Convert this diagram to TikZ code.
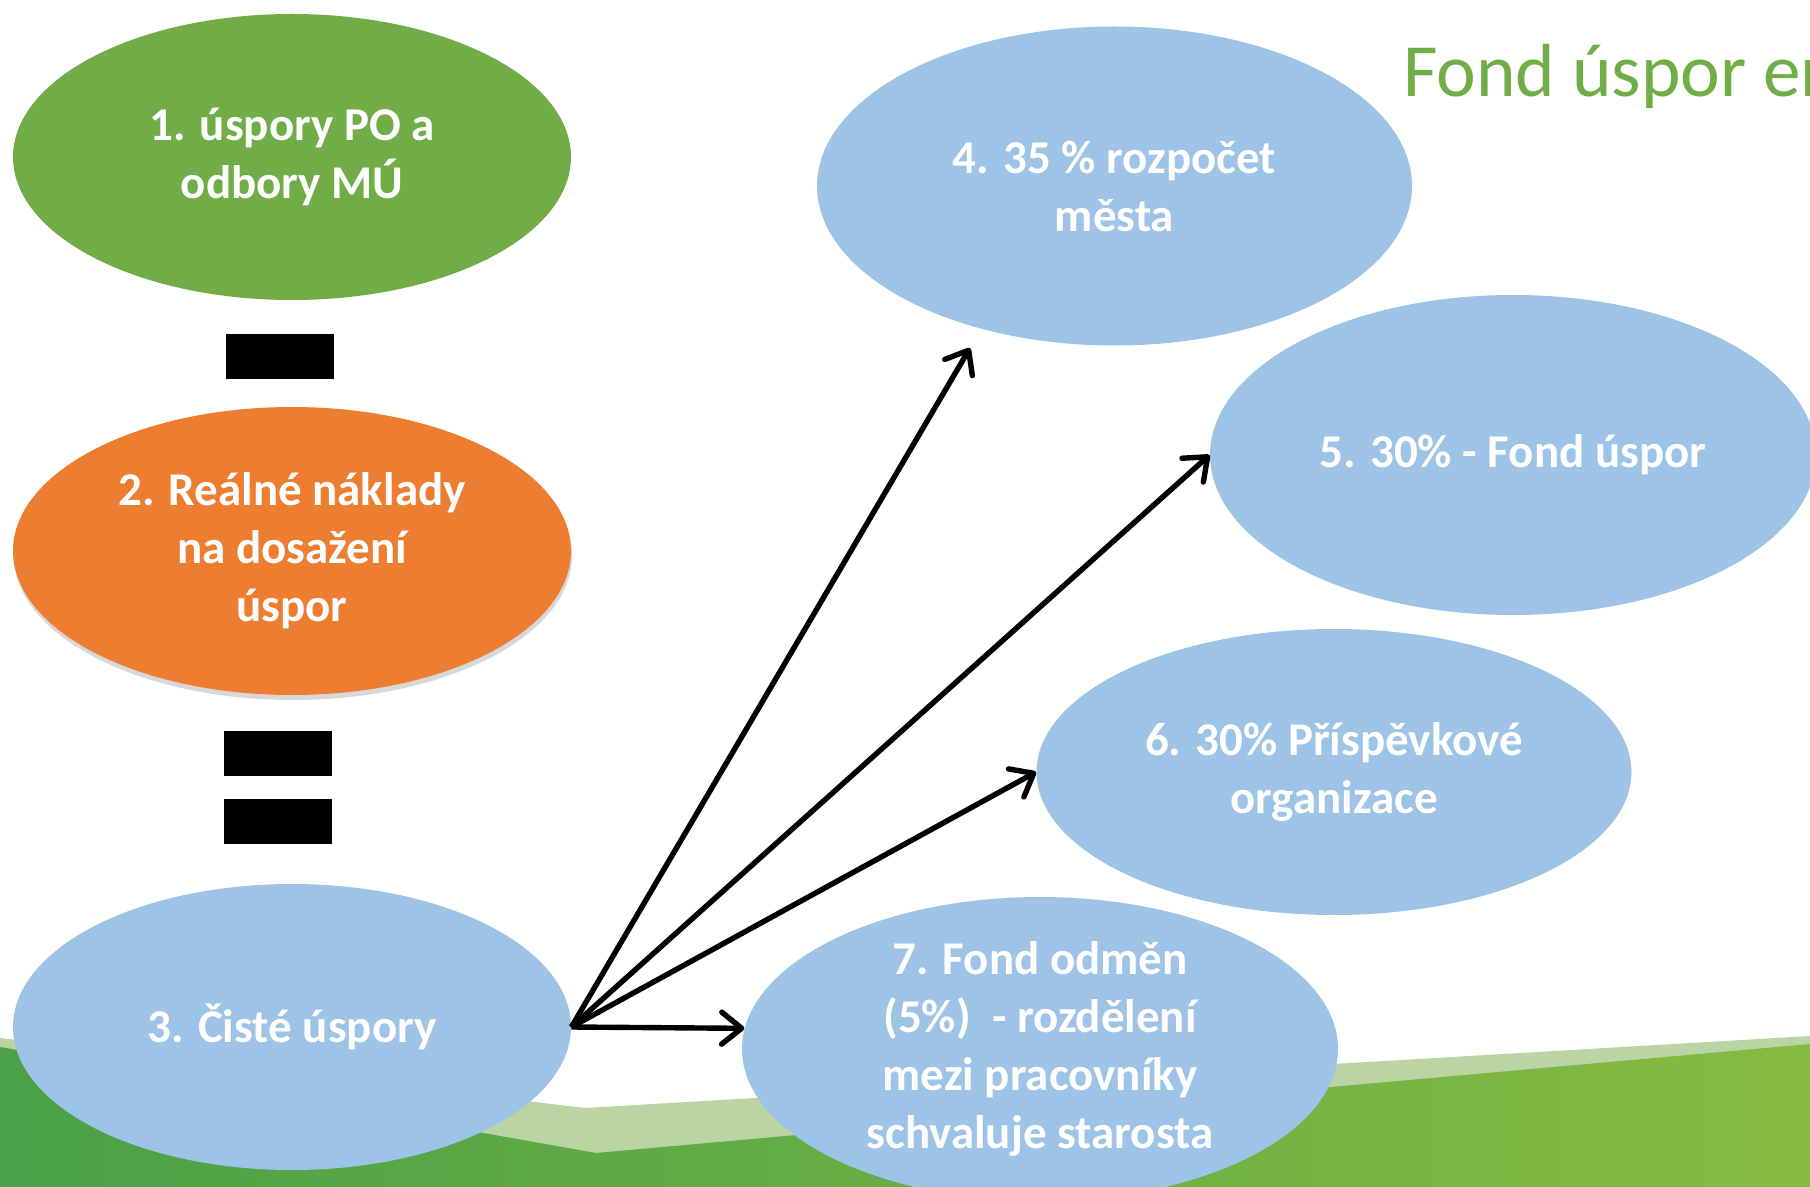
\documentclass[tikz,border=0pt]{standalone}
\usepackage{fontspec}
\setmainfont{Carlito}
\definecolor{leafgreen}{HTML}{70AD47}
\definecolor{costorange}{HTML}{ED7D31}
\definecolor{fundblue}{HTML}{9DC3E6}
\definecolor{meadowlight}{RGB}{186,213,163}
\definecolor{meadowleft}{RGB}{74,161,71}
\definecolor{meadowright}{RGB}{134,187,65}
\usetikzlibrary{
  arrows.meta,
  shadows,
  shapes.geometric,
}
\tikzset{
  >={Straight Barb[length=10pt, width=16pt, line cap=round, line join=round]},
}

\begin{document}
\begin{tikzpicture}[x=0.5pt, y=-0.5pt,
    oval/.style={ellipse, inner sep=0pt, text=white, align=center,
                 font=\bfseries\fontsize{23.5}{29}\selectfont},
    bar/.style={fill=black, inner sep=0pt, minimum width=54pt, minimum height=22.5pt},
    flow/.style={->, line width=2.7pt}]
  \fill [white] (0,0) rectangle (1810,1187);
  \useasboundingbox (0,0) rectangle (1810,1187);
  % meadow along the bottom
  \fill [meadowlight] (0,1038) -- (585,1108) -- (1810,1036) -- (1810,1187)
        -- (0,1187) -- cycle;
  \shade [left color=meadowleft, right color=meadowright] (0,1047) -- (596,1153)
        -- (1810,1044) -- (1810,1187) -- (0,1187) -- cycle;
  \node [leafgreen, anchor=base west, font=\fontsize{37.6}{45}\selectfont]
        (title) at (1396,97) {Fond úspor en};
  \node [oval, fill=leafgreen, minimum width=279pt, minimum height=143pt]
        (savings) at (292,157) {1. úspory PO a\\odbory MÚ};
  \node [bar] (minus) at (279.5,356.5) {};
  \node [oval, fill=costorange, minimum width=279pt, minimum height=144pt,
         drop shadow={shadow xshift=0.5pt, shadow yshift=-2.5pt, opacity=0.3}]
        (costs) at (292,551) {2. Reálné náklady\\na dosažení\\úspor};
  \node [bar] (equalstop) at (278,753.5) {};
  \node [bar] (equalbot) at (278,821.5) {};
  \node [oval, fill=fundblue, minimum width=279pt, minimum height=143pt]
        (net) at (292,1027) {3. Čisté úspory};
  \node [oval, fill=fundblue, minimum width=297.5pt, minimum height=159.5pt]
        (city) at (1114.5,186) {4. 35 \% rozpočet\\města};
  \node [oval, fill=fundblue, minimum width=303pt, minimum height=160pt]
        (fund) at (1513,455) {5. 30\% - Fond úspor};
  \node [oval, fill=fundblue, minimum width=297.5pt, minimum height=143pt]
        (org) at (1334,772) {6. 30\% Příspěvkové\\organizace};
  \node [oval, fill=fundblue, minimum width=298pt, minimum height=143pt]
        (reward) at (1040,1049) {7. Fond odměn\\(5\%)\ \ - rozdělení\\mezi pracovníky\\schvaluje starosta};
  \draw [flow, shorten >=11pt] (net.east) -- (city.227);
  \draw [flow] (net.east) -- (fund.west);
  \draw [flow] (net.east) -- (org.west);
  \draw [flow] (net.east) -- (reward.176);
\end{tikzpicture}
\end{document}
